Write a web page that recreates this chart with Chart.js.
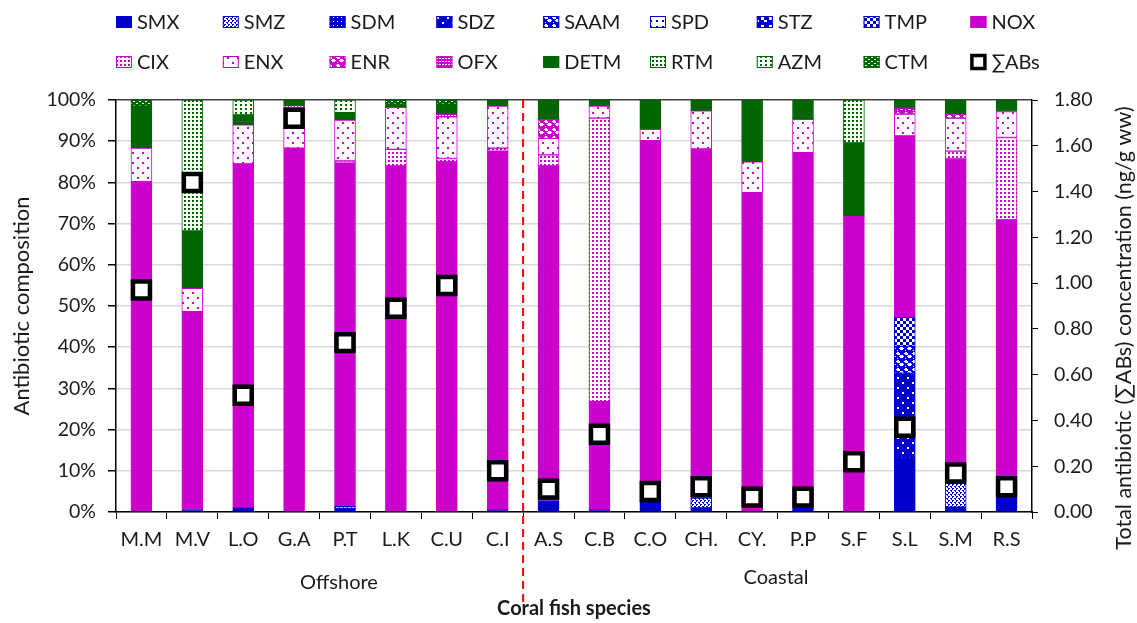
<!DOCTYPE html>
<html>
<head>
<meta charset="utf-8">
<script src="https://cdn.jsdelivr.net/npm/chart.js@4.4.1/dist/chart.umd.min.js"></script>
<style>
  html, body { margin: 0; padding: 0; background: #ffffff; }
  #wrap { width: 1137px; height: 623px; position: relative; }
</style>
</head>
<body>
<div id="wrap"><canvas id="c" width="1137" height="623"></canvas></div>
<script>
// Coral fish species (offshore first, then coastal)
const species = ['M.M','M.V','L.O','G.A','P.T','L.K','C.U','C.I','A.S','C.B','C.O','CH.','CY.','P.P','S.F','S.L','S.M','R.S'];

// Composition of each antibiotic (% of total)
const SMX  = [0, 0.6, 1.0, 0, 0.9, 0, 0, 0.5, 2.8, 0.5, 2.6, 1.0, 0, 1.0, 0, 12.6, 1.2, 3.5];
const SMZ  = [0, 0, 0, 0, 0.5, 0, 0, 0, 0, 0, 0, 2.4, 0, 0, 0, 0, 5.8, 0];
const SDM  = [0, 0, 0, 0, 0, 0, 0, 0, 0, 0, 0, 0, 0, 0, 0, 0.7, 0, 3.1];
const SDZ  = [0, 0, 0, 0, 0, 0, 0, 0, 0, 0, 0, 0, 0, 0, 0, 20.4, 4.0, 0];
const SAAM = [0, 0, 0, 0, 0, 0, 0, 0, 0, 0, 0, 0, 0, 0, 0, 6.5, 0, 0];
const SPD  = [0, 0, 0, 0, 0, 0, 0, 0, 0, 0, 0, 0, 0, 0, 0, 0, 0, 0];
const STZ  = [0, 0, 0, 0, 0, 0, 0, 0, 0, 0, 0, 0, 0, 0, 0, 0, 0, 0];
const TMP  = [0, 0, 0, 0, 0, 0, 0, 0, 0, 0, 0, 0, 0, 0, 0, 7.1, 0, 0];
const NOX  = [80.2, 48.0, 83.5, 88.3, 83.3, 84.0, 85.0, 87.1, 81.2, 26.3, 87.5, 84.7, 77.5, 86.2, 71.8, 44.0, 74.8, 64.3];
const CIX  = [0, 0, 0, 0, 0.5, 4.0, 0.8, 0.7, 2.7, 68.8, 0, 0, 0, 0, 0, 0, 1.8, 20.0];
const ENX  = [8.1, 5.7, 9.5, 10.0, 9.9, 10.2, 10.1, 10.2, 4.0, 2.9, 2.8, 9.3, 7.5, 8.1, 0, 5.3, 8.0, 6.3];
const ENR  = [0, 0, 0, 0, 0, 0, 0, 0, 4.6, 0, 0, 0, 0, 0, 0, 1.4, 1.0, 0];
const OFX  = [0, 0, 0, 0.3, 0, 0, 0.7, 0, 0, 0, 0, 0, 0, 0, 0, 0, 0, 0];
const DETM = [10.2, 13.9, 2.4, 1.4, 1.8, 0.8, 2.4, 1.5, 4.7, 1.5, 7.1, 2.6, 15.0, 4.7, 17.8, 2.0, 3.4, 2.8];
const RTM  = [0, 31.8, 0, 0, 0, 0, 0, 0, 0, 0, 0, 0, 0, 0, 10.4, 0, 0, 0];
const AZM  = [0, 0, 3.6, 0, 3.1, 0, 0, 0, 0, 0, 0, 0, 0, 0, 0, 0, 0, 0];
const CTM  = [1.5, 0, 0, 0, 0, 1.0, 1.0, 0, 0, 0, 0, 0, 0, 0, 0, 0, 0, 0];

// Total antibiotic concentration (ng/g ww)
const totalABs = [0.97, 1.44, 0.51, 1.72, 0.74, 0.89, 0.99, 0.18, 0.10, 0.34, 0.09, 0.11, 0.065, 0.065, 0.22, 0.37, 0.17, 0.11];

const groupLabels = ['Offshore', 'Coastal'];

const BLUE = '#0000CC', MAG = '#CC00CC', GREEN = '#006600';
const FONT = 'Lato, "Open Sans", sans-serif';
const TXT = '#1a1a1a';

// Build a repeating fill from a small bitmap: '#' = ink, '.' = white
function tile(color, rows) {
  const h = rows.length, w = rows[0].length;
  const cv = document.createElement('canvas');
  cv.width = w; cv.height = h;
  const g = cv.getContext('2d');
  g.fillStyle = '#ffffff'; g.fillRect(0, 0, w, h);
  g.fillStyle = color;
  for (let y = 0; y < h; y++) for (let x = 0; x < w; x++) if (rows[y][x] === '#') g.fillRect(x, y, 1, 1);
  return document.getElementById('c').getContext('2d').createPattern(cv, 'repeat');
}
const solid = c => c;

const fills = {
  SMX: solid(BLUE),
  SMZ: tile(BLUE, ['##..', '#...', '..##', '...#']),
  SDM: tile(BLUE, ['####', '#.##', '####', '####']),
  SDZ: tile(BLUE, ['##########', '##########', '##..######', '##..######', '##########', '##########', '##########', '#######..#', '#######..#', '##########']),
  SAAM: tile(BLUE, ['#..#####', '....####', '#...####', '####...#', '###.....', '####...#', '#.######', '########']),
  SPD: tile(BLUE, ['......', '......', '..##..', '..##..', '......', '......']),
  STZ: tile(BLUE, ['########', '#...####', '#...####', '#...####', '####...#', '####...#', '########', '########']),
  TMP: tile(BLUE, ['###...', '###...', '###...', '...###', '...###', '...###']),
  NOX: solid(MAG),
  CIX: tile(MAG, ['##..', '##..', '....', '....']),
  ENX: tile(MAG, ['..........', '..........', '..##......', '..##......', '..........', '..........', '..........', '.......##.', '.......##.', '..........']),
  ENR: tile(MAG, ['#..#####', '....####', '#...####', '####...#', '###.....', '####...#', '#.######', '########']),
  OFX: tile(MAG, ['######', '#..#..', '######']),
  DETM: solid(GREEN),
  RTM: tile(GREEN, ['##..', '##..', '....', '....']),
  AZM: tile(GREEN, ['##...', '##...', '.....', '.....']),
  CTM: tile(GREEN, ['######', '#..###', '######', '####..'])
};

const series = [
  ['SMX', SMX, BLUE], ['SMZ', SMZ, BLUE], ['SDM', SDM, BLUE], ['SDZ', SDZ, BLUE],
  ['SAAM', SAAM, BLUE], ['SPD', SPD, BLUE], ['STZ', STZ, BLUE], ['TMP', TMP, BLUE],
  ['NOX', NOX, MAG], ['CIX', CIX, MAG], ['ENX', ENX, MAG], ['ENR', ENR, MAG], ['OFX', OFX, MAG],
  ['DETM', DETM, GREEN], ['RTM', RTM, GREEN], ['AZM', AZM, GREEN], ['CTM', CTM, GREEN]
];

const datasets = series.map(([name, vals, ink]) => ({
  type: 'bar',
  label: name,
  data: vals.map(v => (v ? v : null)),
  backgroundColor: fills[name],
  borderColor: ink,
  borderWidth: 1,
  borderSkipped: false,
  barThickness: 21,
  yAxisID: 'y',
  order: 1,
  ink: ink
}));

datasets.push({
  type: 'line',
  label: '\u2211ABs',
  data: totalABs,
  yAxisID: 'y1',
  showLine: false,
  pointStyle: 'rect',
  pointRadius: 12,
  pointBorderWidth: 4.5,
  pointBackgroundColor: '#ffffff',
  pointBorderColor: '#000000',
  order: 0
});

// Two-row legend laid out on a fixed column grid
const gridLegend = {
  id: 'gridLegend',
  afterDraw(chart) {
    const ctx = chart.ctx;
    const colX0 = 116, colStep = 106.8, rowY = [22, 62];
    ctx.save();
    ctx.font = '20px ' + FONT;
    ctx.textBaseline = 'middle';
    ctx.textAlign = 'left';
    chart.data.datasets.forEach((ds, i) => {
      const col = i % 9, row = Math.floor(i / 9);
      const x = colX0 + col * colStep, y = rowY[row];
      if (ds.type === 'line') {
        ctx.fillStyle = '#fff';
        ctx.fillRect(x + 1.5, y - 6.5, 13, 13);
        ctx.lineWidth = 3.5;
        ctx.strokeStyle = '#000';
        ctx.strokeRect(x + 1.5, y - 6.5, 13, 13);
      } else {
        ctx.fillStyle = ds.backgroundColor;
        ctx.fillRect(x, y - 6, 16, 12);
        ctx.lineWidth = 1;
        ctx.strokeStyle = ds.ink;
        ctx.strokeRect(x + 0.5, y - 5.5, 15, 11);
      }
      ctx.fillStyle = TXT;
      ctx.fillText(ds.label, x + 21, y + 1);
    });
    ctx.restore();
  }
};

// Dashed divider between the offshore and coastal groups, group names and right axis title
const annotations = {
  id: 'annotations',
  afterDraw(chart) {
    const ctx = chart.ctx, xs = chart.scales.x, area = chart.chartArea;
    const xDiv = (xs.getPixelForValue(7) + xs.getPixelForValue(8)) / 2;
    ctx.save();
    ctx.strokeStyle = '#FF0000';
    ctx.lineWidth = 2;
    ctx.setLineDash([8, 5]);
    ctx.beginPath();
    ctx.moveTo(xDiv, area.top);
    ctx.lineTo(xDiv, 604);
    ctx.stroke();
    ctx.setLineDash([]);

    ctx.fillStyle = TXT;
    ctx.font = '20px ' + FONT;
    ctx.textAlign = 'center';
    ctx.textBaseline = 'middle';
    ctx.fillText(groupLabels[0], 339, 583);
    ctx.fillText(groupLabels[1], 776, 578);

    ctx.font = '21.5px ' + FONT;
    ctx.translate(1124, 328);
    ctx.rotate(-Math.PI / 2);
    ctx.fillText('Total antibiotic (\u2211ABs) concentration (ng/g ww)', 0, 0);
    ctx.restore();
  }
};

new Chart(document.getElementById('c'), {
  data: { labels: species, datasets: datasets },
  options: {
    responsive: false,
    animation: false,
    layout: { padding: { top: 100, left: 0, right: 0, bottom: 0 } },
    plugins: { legend: { display: false }, tooltip: { enabled: false } },
    scales: {
      x: {
        stacked: true,
        offset: true,
        grid: { display: true, drawOnChartArea: false, drawTicks: true, tickLength: 7, color: '#000', offset: true },
        border: { display: true, color: '#000', width: 1.5 },
        ticks: { color: TXT, font: { family: FONT, size: 20 }, padding: 9, maxRotation: 0, autoSkip: false },
        title: { display: true, text: 'Coral fish species', color: TXT, font: { family: FONT, size: 20, weight: 'bold' }, padding: { top: 0, bottom: 2 } },
        afterFit: s => { s.height = 111; }
      },
      y: {
        stacked: true,
        position: 'left',
        min: 0, max: 100,
        ticks: { stepSize: 10, color: TXT, font: { family: FONT, size: 19.5 }, padding: 12, callback: v => v + '%' },
        grid: {
          color: c => (c.tick && c.tick.value === 100 ? '#404040' : '#d9d9d9'),
          lineWidth: 1.5,
          tickColor: '#000', tickLength: 8
        },
        border: { display: true, color: '#000', width: 1.5 },
        title: { display: true, text: 'Antibiotic composition', color: TXT, font: { family: FONT, size: 22 }, padding: { top: 9, bottom: 0 } },
        afterFit: s => { s.width = 116; }
      },
      y1: {
        position: 'right',
        min: 0, max: 1.8,
        ticks: { stepSize: 0.2, color: TXT, font: { family: FONT, size: 19.5 }, padding: 16, callback: v => Number(v).toFixed(2) },
        grid: { drawOnChartArea: false, drawTicks: true, tickLength: 6, tickColor: '#000' },
        border: { display: true, color: '#000', width: 1.5 },
        afterFit: s => { s.width = 105; }
      }
    }
  },
  plugins: [gridLegend, annotations]
});
</script>
</body>
</html>
